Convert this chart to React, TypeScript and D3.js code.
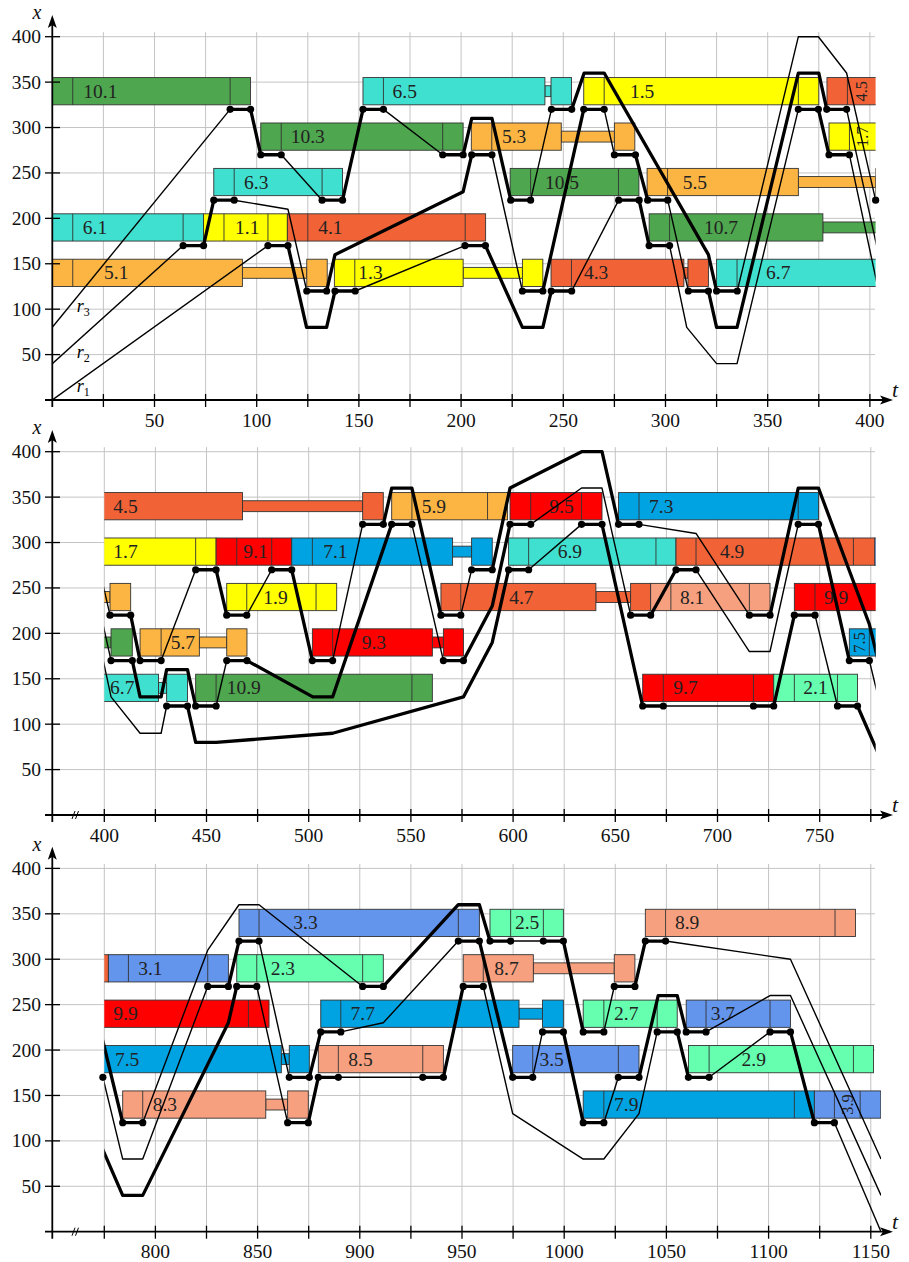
import React from "react";
import * as d3 from "d3";

// ---------- data ----------
const JOB_COLORS: Record<string, string> = {
  "1": "#ffff00", "2": "#66ffb0", "3": "#6495ed", "4": "#f16337", "5": "#fcb543",
  "6": "#40e0d0", "7": "#00a3e2", "8": "#f6a07f", "9": "#ff0000", "10": "#4ea64e",
};

const OP_LEVELS = [120, 170, 220, 270, 320];

// [job, row, start, end, cuts]
const BARS: [string, number, number, number, number[]][] = [
  ["10.1", 340, 0, 97, [10, 87]],
  ["6.5", 340, 152, 241, [162]],
  ["6.5", 340, 244, 254, []],
  ["1.5", 340, 260, 375, [270, 365]],
  ["4.5", 340, 379, 467.6, [389]],
  ["4.5", 340, 526.4, 536.5, []],
  ["5.9", 340, 540.6, 597.3, [550.5, 587.5]],
  ["9.5", 340, 598.5, 643.5, [608.6, 633.5]],
  ["7.3", 340, 651.6, 749.4, [661.6, 739.5]],
  ["3.3", 340, 840.9, 958.5, [850.7, 948.2]],
  ["2.5", 340, 963.7, 999.6, [973.8, 989.8]],
  ["8.9", 340, 1039.7, 1142.5, [1049.6, 1132.5]],
  ["10.3", 290, 102, 201, [112, 191]],
  ["5.3", 290, 205, 249, [215]],
  ["5.3", 290, 275, 285, []],
  ["1.7", 290, 380, 454.7, [390, 444.7]],
  ["9.1", 290, 454.7, 491.7, [464.8, 481.9]],
  ["7.1", 290, 491.7, 570.4, [501.8]],
  ["7.1", 290, 579.7, 589.8, []],
  ["6.9", 290, 597.8, 679.7, [607.6, 669.9]],
  ["4.9", 290, 679.7, 777, [689.5, 766.5]],
  ["3.1", 290, 777, 835.7, [786.8, 825.6]],
  ["2.3", 290, 839.8, 911.5, [849.6, 901.4]],
  ["8.7", 290, 950.6, 984.9, [960.4]],
  ["8.7", 290, 1024.5, 1034.6, []],
  ["6.3", 240, 79, 142, [89, 132]],
  ["10.5", 240, 224, 287, [234, 277]],
  ["5.5", 240, 291, 365, [301]],
  ["5.5", 240, 402.8, 412.9, []],
  ["1.9", 240, 459.9, 513.7, [469.7, 503.6]],
  ["4.7", 240, 564.7, 640.5, [574.4]],
  ["4.7", 240, 657.5, 667.3, []],
  ["8.1", 240, 667.3, 725.7, [677.2, 715.6]],
  ["9.9", 240, 737.6, 855.6, [747.7, 845.5]],
  ["7.7", 240, 880.9, 977.9, [890.7]],
  ["7.7", 240, 989.4, 999.6, []],
  ["2.7", 240, 1009.3, 1055.3, [1019.4, 1045.5]],
  ["3.7", 240, 1059.7, 1110.7, [1069.4, 1100.7]],
  ["6.1", 190, 0, 74, [10, 64]],
  ["1.1", 190, 74, 115, [84, 105.5]],
  ["4.1", 190, 115, 212, [125, 202]],
  ["10.7", 190, 292, 377, [302]],
  ["10.7", 190, 403.3, 413.7, []],
  ["5.7", 190, 417.5, 446.5, [427.8]],
  ["5.7", 190, 459.9, 469.8, []],
  ["9.3", 190, 501.8, 560.5, [511.7]],
  ["9.3", 190, 565.9, 575.7, []],
  ["7.5", 190, 764.5, 861.6, [774.3]],
  ["7.5", 190, 865.5, 875.3, []],
  ["8.5", 190, 879.7, 940.9, [889.5, 930.8]],
  ["3.5", 190, 974.8, 1036.6, [984.6, 1026.5]],
  ["2.9", 190, 1060.8, 1151.3, [1070.9, 1141.5]],
  ["5.1", 140, 0, 93, [10]],
  ["5.1", 140, 124.5, 134.5, []],
  ["1.3", 140, 138, 201, [148]],
  ["1.3", 140, 230, 240, []],
  ["4.3", 140, 244, 309, [254]],
  ["4.3", 140, 311, 321, []],
  ["6.7", 140, 325, 426.5, [335]],
  ["6.7", 140, 430.5, 440.7, []],
  ["10.9", 140, 444.7, 560.5, [454.7, 550.5]],
  ["9.7", 140, 663.4, 727.5, [673.5, 717.6]],
  ["2.1", 140, 727.5, 768.5, [737.6, 758.7]],
  ["8.3", 140, 784, 854, [793.8]],
  ["8.3", 140, 864.7, 874.8, []],
  ["7.9", 140, 1009.3, 1122.4, [1019.4, 1112.6]],
  ["3.9", 140, 1122.4, 1154.9, [1132.2, 1144.8]],
];

// waiting connectors [job, row, start, end]
const LINKS: [string, number, number, number][] = [
  ["6.5", 340, 241, 244], ["4.5", 340, 467.6, 526.4],
  ["5.3", 290, 249, 275], ["7.1", 290, 570.4, 579.7], ["8.7", 290, 984.9, 1024.5],
  ["5.5", 240, 365, 402.8], ["4.7", 240, 640.5, 657.5], ["7.7", 240, 977.9, 989.4],
  ["10.7", 190, 377, 403.3], ["5.7", 190, 446.5, 459.9], ["9.3", 190, 560.5, 565.9], ["7.5", 190, 861.6, 865.5],
  ["5.1", 140, 93, 124.5], ["1.3", 140, 201, 230], ["4.3", 140, 309, 311], ["6.7", 140, 426.5, 430.5], ["8.3", 140, 854, 864.7],
];

// [text, t, row, rotation]
const LABELS_1: [string, number, number, number][] = [
  ["10.1", 15.2, 340, 0], ["6.1", 14.9, 190, 0], ["5.1", 25.3, 140, 0], ["6.3", 93.8, 240, 0],
  ["1.1", 89.4, 190, 0], ["10.3", 116.6, 290, 0], ["4.1", 130.1, 190, 0], ["1.3", 149.7, 140, 0],
  ["6.5", 166.5, 340, 0], ["5.3", 220, 290, 0], ["10.5", 241, 240, 0], ["4.3", 260.1, 140, 0],
  ["1.5", 282.6, 340, 0], ["5.5", 308.4, 240, 0], ["10.7", 318.8, 190, 0], ["6.7", 349.2, 140, 0],
  ["4.5", 396, 340, -90], ["1.7", 396.5, 290, -90],
];
const LABELS_2: [string, number, number, number][] = [
  ["4.5", 404.4, 340, 0], ["1.7", 404.4, 290, 0], ["6.7", 402.8, 140, 0], ["5.7", 432.5, 190, 0],
  ["9.1", 468, 290, 0], ["10.9", 459.9, 140, 0], ["1.9", 477.8, 240, 0], ["7.1", 507.1, 290, 0],
  ["9.3", 525.9, 190, 0], ["5.9", 555.3, 340, 0], ["9.5", 617.7, 340, 0], ["6.9", 621.8, 290, 0],
  ["4.7", 598.1, 240, 0], ["7.3", 666.5, 340, 0], ["9.7", 678.4, 140, 0], ["8.1", 681.6, 240, 0],
  ["4.9", 701.2, 290, 0], ["9.9", 752.1, 240, 0], ["2.1", 742, 140, 0], ["7.5", 769.4, 190, -90],
];
const LABELS_3: [string, number, number, number][] = [
  ["3.1", 791.6, 290, 0], ["9.9", 779.4, 240, 0], ["7.5", 780.2, 190, 0], ["8.3", 798.7, 140, 0],
  ["3.3", 867.5, 340, 0], ["2.3", 856.4, 290, 0], ["7.7", 895.5, 240, 0], ["8.5", 894.4, 190, 0],
  ["2.5", 975.9, 340, 0], ["8.7", 965.8, 290, 0], ["3.5", 987.9, 190, 0], ["2.7", 1024.4, 240, 0],
  ["7.9", 1024.4, 140, 0], ["8.9", 1054.2, 340, 0], ["3.7", 1071.7, 240, 0], ["2.9", 1086.8, 190, 0],
  ["3.9", 1138.5, 140, -90],
];

// hoist trajectories: [t, x, loaded (segment ending here is drawn thick)]
const R1: [number, number, number][] = [
  [0, 0, 0], [105.5, 170, 0], [115.3, 170, 1], [124.4, 80, 1], [134.2, 80, 1], [138.3, 120, 1], [148.2, 120, 1],
  [201.9, 170, 0], [211.9, 170, 1], [230, 80, 1], [240, 80, 1], [244.1, 120, 1], [254.1, 120, 1],
  [277.1, 220, 0], [287.1, 220, 1], [292, 170, 1], [302, 170, 1], [310.4, 80, 0], [325, 40, 0], [335, 40, 0],
  [365, 320, 0], [374.8, 320, 1], [380, 270, 1], [390, 270, 1], [403.3, 130, 0], [417.5, 90, 0], [427.8, 90, 0],
  [430.5, 120, 0], [440.7, 120, 1], [444.7, 80, 1], [454.7, 80, 1], [511.7, 90, 1], [575.7, 130, 1], [589.8, 190, 1],
  [597.8, 270, 1], [607.6, 270, 1], [633.5, 320, 0], [643.5, 320, 1], [663.4, 120, 1], [673.5, 120, 1],
  [717.6, 120, 0], [727.5, 120, 1], [737.6, 220, 1], [747.7, 220, 1], [758.7, 120, 0], [768.5, 120, 1],
  [784, 40, 1], [793.8, 40, 1], [835.7, 230, 1], [839.8, 270, 1], [849.6, 270, 1], [864.7, 120, 0], [874.8, 120, 1],
  [879.7, 170, 1], [889.5, 170, 1], [930.8, 170, 0], [940.9, 170, 1], [950.6, 270, 1], [960.4, 270, 1],
  [974.8, 130, 0], [1009.3, 80, 0], [1019.4, 80, 0], [1036.6, 130, 0], [1045.5, 220, 0], [1055.3, 220, 1],
  [1060.8, 170, 1], [1070.9, 170, 1], [1100.7, 220, 0], [1110.7, 220, 1], [1122.4, 120, 1], [1132.2, 120, 1],
  [1155, 0, 0],
];
const R2: [number, number, number][] = [
  [0, 40, 0], [64, 170, 0], [74, 170, 1], [79, 220, 1], [89, 220, 1], [115.3, 210, 0], [124.5, 120, 0],
  [134.2, 120, 1], [138.3, 160, 1], [201, 229.4, 1], [205.2, 270, 1], [215.1, 270, 1], [230, 120, 0], [240, 120, 1],
  [260, 320, 1], [270, 320, 1], [275, 270, 0], [285.3, 270, 1], [291.3, 220, 1], [301.1, 220, 1], [311.2, 120, 0],
  [321, 120, 1], [325, 80, 1], [335, 80, 1], [365, 360, 1], [375, 360, 1], [378.9, 320, 1], [388.6, 320, 1],
  [403.3, 170, 0], [413.7, 170, 1], [417.5, 130, 1], [427.8, 130, 1], [430.5, 160, 1], [440.7, 160, 1],
  [444.7, 120, 1], [454.7, 120, 1], [459.9, 170, 0], [469.8, 170, 1], [502, 130, 1], [511.7, 130, 1],
  [540.6, 320, 1], [550.5, 320, 1], [565.9, 170, 0], [575.7, 170, 1], [589.8, 230, 1], [598.5, 320, 1],
  [608.6, 320, 1], [633.5, 360, 0], [643.5, 360, 0], [657.5, 220, 0], [667.3, 220, 1], [679.7, 270, 1],
  [689.5, 270, 1], [715.6, 180, 0], [725.7, 180, 0], [739.5, 320, 0], [749.4, 320, 1], [764.5, 170, 1],
  [774.3, 170, 1], [784, 80, 0], [793.8, 80, 0], [825.6, 270, 0], [835.7, 270, 1], [840.9, 320, 1], [850.7, 320, 1],
  [865.5, 170, 0], [875.3, 170, 1], [880.9, 220, 1], [890.7, 220, 1], [911.5, 230, 0], [948.2, 320, 0],
  [958.5, 320, 1], [974.8, 170, 1], [984.6, 170, 1], [989.4, 220, 0], [999.6, 220, 1], [1009.3, 120, 1],
  [1019.4, 120, 1], [1026.5, 170, 0], [1036.6, 170, 1], [1046, 260, 1], [1055.3, 260, 1], [1059.7, 220, 1],
  [1069.4, 220, 1], [1100.7, 260, 0], [1110.7, 260, 0], [1155, 40, 0],
];
const R3: [number, number, number][] = [
  [0, 80, 0], [87, 320, 0], [97, 320, 1], [102, 270, 1], [112, 270, 1], [132, 220, 0], [142, 220, 1],
  [152, 320, 1], [162, 320, 1], [191, 270, 0], [201, 270, 1], [205.2, 310, 1], [215.1, 310, 1], [224.3, 220, 1],
  [234, 220, 1], [244.2, 320, 0], [254.1, 320, 1], [260.2, 360, 1], [270, 360, 1], [321, 160, 1], [325, 120, 1],
  [335.1, 120, 1], [365, 400, 0], [374.8, 400, 0], [388.6, 360, 0], [402.8, 220, 0], [412.9, 220, 1],
  [417.5, 170, 1], [427.8, 170, 1], [444.7, 270, 0], [454.7, 270, 1], [459.9, 220, 1], [469.7, 220, 1],
  [481.9, 270, 0], [491.7, 270, 1], [501.8, 170, 1], [511.7, 170, 1], [526.4, 320, 0], [536.5, 320, 1],
  [540.6, 360, 1], [550.5, 360, 1], [564.7, 220, 1], [574.4, 220, 1], [579.7, 270, 0], [589.8, 270, 1],
  [598.5, 360, 1], [633.5, 400, 1], [643.5, 400, 1], [651.6, 320, 1], [661.6, 320, 1], [689.5, 310, 0],
  [715.6, 220, 0], [725.7, 220, 1], [739.5, 360, 1], [749.4, 360, 1], [774.3, 210, 1], [784, 120, 1],
  [793.8, 120, 1], [825.6, 310, 0], [840.9, 360, 0], [850.7, 360, 0], [901.4, 270, 0], [911.5, 270, 1],
  [948.2, 360, 1], [958.5, 360, 1], [963.7, 320, 1], [973.8, 320, 1], [989.8, 320, 0], [999.6, 320, 1],
  [1009.3, 220, 1], [1019.4, 220, 1], [1024.5, 270, 0], [1034.6, 270, 1], [1039.7, 320, 1], [1049.6, 320, 1],
  [1110.7, 300, 0], [1155, 80, 0],
];

const HOISTS = [R1, R2, R3];
// hoist names with the x value of their baseline
const HOIST_NAMES: [string, number, number][] = [["r", 1, 9], ["r", 2, 46], ["r", 3, 97]];

const PANELS = [
  { start: 0, clip: [0, 402.8], ticks: d3.range(25, 401, 25), labels: d3.range(50, 401, 50), base: 400, brk: false },
  { start: 374.56, clip: [400, 777.4], ticks: d3.range(400, 776, 25), labels: d3.range(400, 751, 50), base: 815, brk: true },
  { start: 749.56, clip: [775, 1155], ticks: d3.range(775, 1151, 25), labels: d3.range(800, 1151, 50), base: 1231.7, brk: true },
];

const X0 = 52.3, X1 = 875, SPAN = 402.5, HPX = 363.3;
const FONT = "'Liberation Serif', 'Times New Roman', serif";

function segRuns(path: [number, number, number][]) {
  const runs: { thick: boolean; pts: [number, number][] }[] = [];
  for (let i = 1; i < path.length; i++) {
    const thick = path[i][2] === 1;
    const last = runs[runs.length - 1];
    if (last && last.thick === thick) last.pts.push([path[i][0], path[i][1]]);
    else runs.push({ thick, pts: [[path[i - 1][0], path[i - 1][1]], [path[i][0], path[i][1]]] });
  }
  return runs;
}

function dotsOf(path: [number, number, number][]) {
  const out: [number, number][] = [];
  for (let i = 1; i < path.length; i++) {
    const a = path[i - 1], b = path[i];
    if (b[2] === 1 && a[1] === b[1] && OP_LEVELS.includes(b[1])) {
      out.push([a[0], a[1]]);
      out.push([b[0], b[1]]);
    }
  }
  return out;
}

function Panel({ p, idx, labels }: { p: typeof PANELS[0]; idx: number; labels: [string, number, number, number][] }) {
  const x = d3.scaleLinear().domain([p.start, p.start + SPAN]).range([X0, X1]);
  const y = d3.scaleLinear().domain([0, 400]).range([p.base, p.base - HPX]);
  const line = d3.line<[number, number]>().x((d) => x(d[0])).y((d) => y(d[1]));
  const clipId = `clip${idx}`;
  const cx0 = x(p.clip[0]), cx1 = x(p.clip[1]);
  const inRange = (t: number) => t >= p.clip[0] - 1 && t <= p.clip[1] + 0.2;
  const bar = (job: string) => JOB_COLORS[job.split(".")[0]];
  return (
    <g>
      <defs>
        <clipPath id={clipId}>
          <rect x={cx0} y={p.base - 400} width={cx1 - cx0} height={410} />
        </clipPath>
      </defs>
      {/* grid */}
      <g stroke="#c4c4c4" strokeWidth={1}>
        {p.ticks.map((t) => (
          <line key={"v" + t} x1={x(t)} x2={x(t)} y1={y(0)} y2={y(405)} />
        ))}
        {d3.range(50, 401, 50).map((v) => (
          <line key={"h" + v} x1={X0} x2={X1} y1={y(v)} y2={y(v)} />
        ))}
      </g>
      {/* bars */}
      <g clipPath={`url(#${clipId})`}>
        {LINKS.map(([job, row, a, b], i) => (
          <rect key={"l" + i} x={x(a)} y={y(row + 6)} width={x(b) - x(a)} height={y(row - 6) - y(row + 6)}
            fill={bar(job)} stroke="#333" strokeWidth={0.9} />
        ))}
        {BARS.map(([job, row, a, b, cuts], i) => (
          <g key={"b" + i}>
            <rect x={x(a)} y={y(row + 15)} width={x(b) - x(a)} height={y(row - 15) - y(row + 15)}
              fill={bar(job)} stroke="#333" strokeWidth={0.9} />
            {cuts.map((c) => (
              <line key={c} x1={x(c)} x2={x(c)} y1={y(row + 15)} y2={y(row - 15)} stroke="#333" strokeWidth={0.9} />
            ))}
          </g>
        ))}
      </g>
      {/* labels */}
      <g fontFamily={FONT} fontSize={19.5} fill="#222">
        {labels.map(([txt, t, row, rot], i) =>
          rot ? (
            <text key={"t" + i} transform={`translate(${x(t)},${y(row)}) rotate(${rot})`} textAnchor="middle" dy="0.33em" fontSize={16.5}>
              {txt}
            </text>
          ) : (
            <text key={"t" + i} x={x(t)} y={y(row) + 6.5}>
              {txt}
            </text>
          )
        )}
      </g>
      {/* hoist trajectories */}
      <g clipPath={`url(#${clipId})`} fill="none" stroke="#000" strokeLinejoin="round">
        {HOISTS.map((h, hi) =>
          segRuns(h).map((r, ri) => (
            <path key={hi + "-" + ri} d={line(r.pts) || ""} strokeWidth={r.thick ? 3.3 : 1.4} />
          ))
        )}
      </g>
      <g fill="#000">
        {HOISTS.flatMap((h, hi) =>
          dotsOf(h).filter((d) => inRange(d[0])).map((d, di) => (
            <circle key={hi + "d" + di} cx={x(d[0])} cy={y(d[1])} r={3.6} />
          ))
        )}
      </g>
      {idx === 0 &&
        HOIST_NAMES.map(([n, k, v]) => (
          <text key={"n" + k} x={x(12)} y={y(v)} fontFamily={FONT} fontStyle="italic" fontSize={18}>
            {n}
            <tspan fontSize={12} dy={4} fontStyle="normal">{k}</tspan>
          </text>
        ))}
      {/* axes */}
      <g stroke="#000" strokeWidth={1.8} fill="none">
        <line x1={45} x2={890} y1={p.base} y2={p.base} />
        <line x1={X0} x2={X0} y1={p.base + 7} y2={p.base - 380} />
        {p.ticks.map((t) => (
          <line key={"xt" + t} x1={x(t)} x2={x(t)} y1={p.base - 6} y2={p.base + 7} strokeWidth={1.3} />
        ))}
        {d3.range(50, 401, 50).map((v) => (
          <line key={"yt" + v} x1={45} x2={60} y1={y(v)} y2={y(v)} strokeWidth={1.3} />
        ))}
        {p.brk && (
          <g strokeWidth={1}>
            <line x1={72} y1={p.base + 4} x2={75} y2={p.base - 4} />
            <line x1={75.5} y1={p.base + 4} x2={78.5} y2={p.base - 4} />
          </g>
        )}
      </g>
      <path d={`M${X0},${p.base - 385} L${X0 - 4.5},${p.base - 372} L${X0},${p.base - 375} L${X0 + 4.5},${p.base - 372} Z`} fill="#000" />
      <path d={`M893,${p.base} L880,${p.base - 4.5} L883,${p.base} L880,${p.base + 4.5} Z`} fill="#000" />
      <g fontFamily={FONT} fontSize={19.5} fill="#111">
        {d3.range(50, 401, 50).map((v) => (
          <text key={"yl" + v} x={41} y={y(v) + 6.5} textAnchor="end">{v}</text>
        ))}
        {p.labels.map((t) => (
          <text key={"xl" + t} x={x(t)} y={p.base + 26.5} textAnchor="middle">{t}</text>
        ))}
        <text x={37} y={p.base - 381} textAnchor="middle" fontStyle="italic" fontSize={20}>x</text>
        <text x={895} y={p.base - 3} textAnchor="middle" fontStyle="italic" fontSize={22}>t</text>
      </g>
    </g>
  );
}

export default function App() {
  const labelSets = [LABELS_1, LABELS_2, LABELS_3];
  return (
    <svg width={909} height={1262} style={{ position: "absolute", left: 0, top: 0, background: "#fff" }}>
      <rect width={909} height={1262} fill="#fff" />
      {PANELS.map((p, i) => (
        <Panel key={i} p={p} idx={i} labels={labelSets[i]} />
      ))}
    </svg>
  );
}
